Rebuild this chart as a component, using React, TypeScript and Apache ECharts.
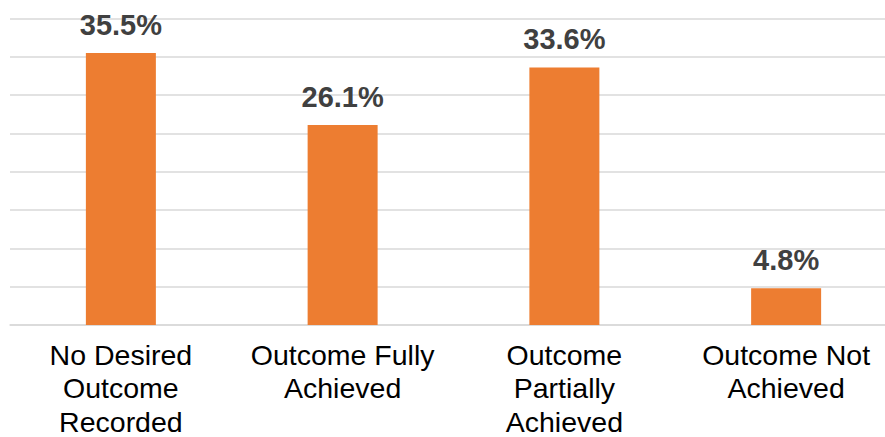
import React, { useEffect, useRef } from "react";
import * as echarts from "echarts";

const categories = [
  "No Desired\nOutcome\nRecorded",
  "Outcome Fully\nAchieved",
  "Outcome\nPartially\nAchieved",
  "Outcome Not\nAchieved",
];
const values = [35.5, 26.1, 33.6, 4.8];
const axisMax = 40;
const axisInterval = 5;

export default function App() {
  const ref = useRef<HTMLDivElement>(null);
  useEffect(() => {
    if (!ref.current) return;
    const chart = echarts.init(ref.current, null, { renderer: "svg" });
    chart.setOption({
      animation: false,
      backgroundColor: "#ffffff",
      grid: {
        left: 10,
        top: 18.6,
        width: 887,
        height: 306.4,
        containLabel: false,
        outerBoundsMode: "none",
      },
      xAxis: {
        type: "category",
        data: categories,
        axisLine: { show: true, lineStyle: { color: "#d9d9d9", width: 1.5 } },
        axisTick: { show: false },
        axisLabel: {
          interval: 0,
          color: "#000000",
          fontFamily: "Liberation Sans, Arial, sans-serif",
          fontSize: 28.5,
          lineHeight: 33.5,
          margin: 13,
        },
      },
      yAxis: {
        type: "value",
        min: 0,
        max: axisMax,
        interval: axisInterval,
        axisLabel: { show: false },
        axisLine: { show: false },
        axisTick: { show: false },
        splitLine: { show: true, lineStyle: { color: "#d9d9d9", width: 1.5 } },
      },
      series: [
        {
          type: "bar",
          data: values,
          barWidth: 70,
          itemStyle: { color: "#ED7D31" },
          label: {
            show: true,
            position: "top",
            distance: 14,
            formatter: (p: any) => p.value.toFixed(1) + "%",
            color: "#404040",
            fontWeight: "bold",
            fontSize: 29,
            fontFamily: "Liberation Sans, Arial, sans-serif",
          },
        },
      ],
    });
    return () => chart.dispose();
  }, []);
  return (
    <div
      ref={ref}
      style={{ position: "fixed", left: 0, top: 0, width: 885, height: 437 }}
    />
  );
}
